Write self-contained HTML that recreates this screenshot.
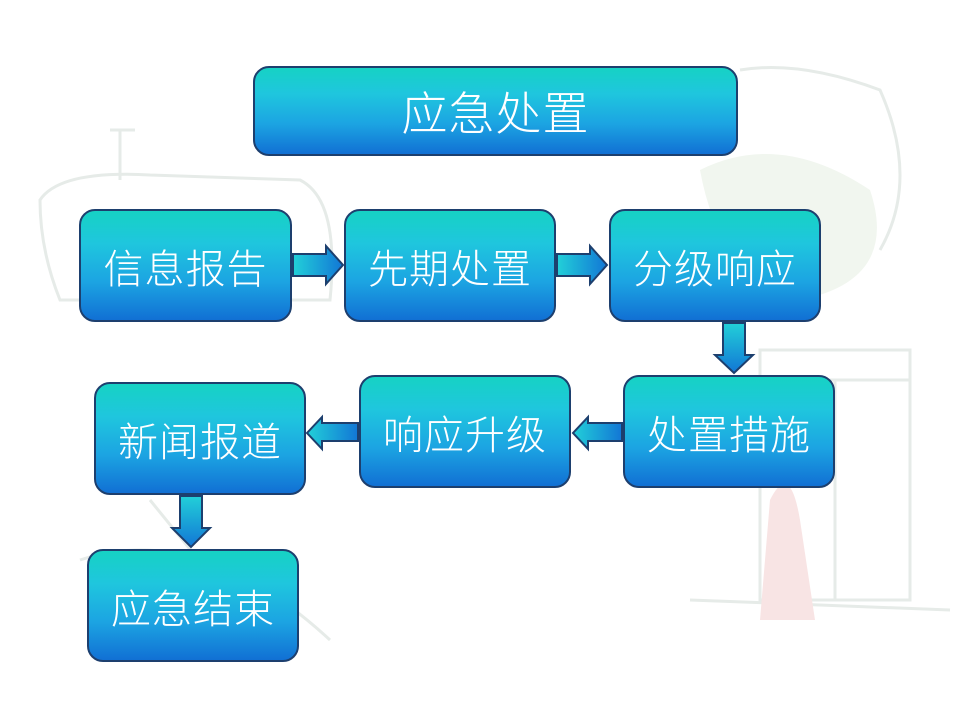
<!DOCTYPE html>
<html><head><meta charset="utf-8"><style>
html,body{margin:0;padding:0}
body{width:960px;height:720px;position:relative;overflow:hidden;background:#fff;font-family:"Liberation Sans","Noto Sans CJK SC",sans-serif}
.b{position:absolute;box-sizing:border-box;border:2px solid #1d3f6e;border-radius:16px;background:linear-gradient(#16d2c4 0%,#1fc6de 30%,#1ca4e2 65%,#1170d4 100%);color:#fff;display:flex;align-items:center;justify-content:center;font-size:40px;font-weight:300;letter-spacing:1px}
svg{position:absolute;left:0;top:0}
</style></head><body>
<svg width="960" height="720">
<defs>
<linearGradient id="g" x1="0" y1="0" x2="0" y2="1"><stop offset="0" stop-color="#22d0d8"/><stop offset="1" stop-color="#1276d6"/></linearGradient>
<linearGradient id="gh" x1="0" y1="0" x2="1" y2="0"><stop offset="0" stop-color="#22d0d8"/><stop offset="1" stop-color="#1276d6"/></linearGradient>
</defs>
<g fill="none" stroke="#e6ebe8" stroke-width="3">
<path d="M40 200 Q60 170 150 175 L300 180 Q340 200 330 300 L60 300 Q40 250 40 200Z"/>
<path d="M120 130 L120 180 M110 130 L135 130"/>
<path d="M760 350 L910 350 L910 600 L760 600Z M760 380 L910 380 M835 380 L835 600"/>
<path d="M690 600 L950 610 M80 560 Q200 520 330 640 M150 500 L280 660"/>
<path d="M740 70 Q800 60 880 90 Q920 180 880 250"/>
</g>
<path d="M700 170 Q780 130 870 190 Q900 280 800 300 Q720 280 700 170Z" fill="#f1f6ef"/>
<path d="M770 500 Q790 460 800 520 L815 620 L760 620Z" fill="#f8e4e4"/>
<g fill="url(#gh)" stroke="#1d3f6e" stroke-width="2">
<path d="M293 254 L326 254 L326 246 L343 265 L326 284 L326 276 L293 276Z"/>
<path d="M557 254 L590 254 L590 246 L607 265 L590 284 L590 276 L557 276Z"/>
<path d="M622 423 L588 423 L588 417 L573 433 L588 449 L588 441 L622 441Z"/>
<path d="M358 423 L322 423 L322 417 L307 433 L322 449 L322 441 L358 441Z"/>
</g>
<g fill="url(#g)" stroke="#1d3f6e" stroke-width="2">
<path d="M723 323 L745 323 L745 355 L753 355 L734 373 L715 355 L723 355Z"/>
<path d="M180 496 L202 496 L202 528 L210 528 L191 547 L172 528 L180 528Z"/>
</g>
</svg>
<div class="b" style="left:253px;top:66px;width:485px;height:90px;font-size:46px">应急处置</div>
<div class="b" style="left:79px;top:209px;width:213px;height:113px">信息报告</div>
<div class="b" style="left:344px;top:209px;width:212px;height:113px">先期处置</div>
<div class="b" style="left:609px;top:209px;width:212px;height:113px">分级响应</div>
<div class="b" style="left:623px;top:375px;width:212px;height:113px">处置措施</div>
<div class="b" style="left:359px;top:375px;width:212px;height:113px">响应升级</div>
<div class="b" style="left:94px;top:382px;width:212px;height:113px">新闻报道</div>
<div class="b" style="left:87px;top:549px;width:212px;height:113px">应急结束</div>
</body></html>
